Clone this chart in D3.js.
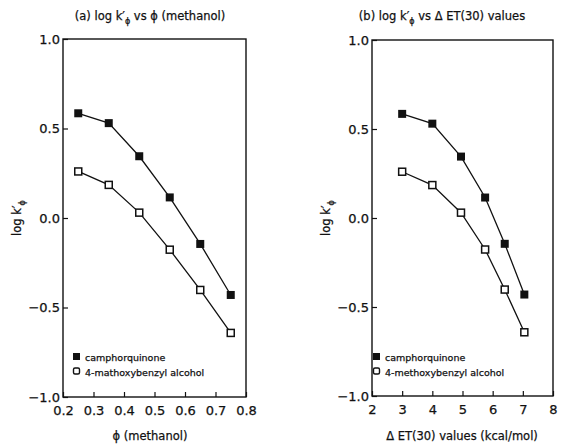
<!DOCTYPE html>
<html>
<head>
<meta charset="utf-8">
<script src="https://cdn.jsdelivr.net/npm/d3@7"></script>
<style>
  body { margin: 0; background: #fff; }
  text, tspan { font-family: "DejaVu Sans", sans-serif; fill: #111; stroke: #111; stroke-width: 0.25px; }
</style>
</head>
<body>
<div id="chart"></div>
<script>
// data
var phi = [0.25, 0.35, 0.45, 0.55, 0.65, 0.75];
var deltaET = [3.0, 4.0, 4.95, 5.75, 6.4, 7.05];
var camphor = [0.585, 0.53, 0.345, 0.115, -0.145, -0.43];
var methoxy = [0.26, 0.185, 0.03, -0.177, -0.402, -0.642];
var yTicks = [-1.0, -0.5, 0.0, 0.5, 1.0];
var phiTicks = [0.2, 0.3, 0.4, 0.5, 0.6, 0.7, 0.8];
var etTicks = [2, 3, 4, 5, 6, 7, 8];
var seriesNames = ["camphorquinone", "4-mathoxybenzyl alcohol"];
var seriesNamesB = ["camphorquinone", "4-methoxybenzyl alcohol"];

var svg = d3.select("#chart").append("svg")
    .attr("width", 561)
    .attr("height", 444);

var sub = "log k\u2032<tspan dy='4' font-size='8px'>\u03d5</tspan>";

function panel(opt) {
    var x = d3.scaleLinear().domain(opt.xDomain).range([opt.left, opt.right]);
    var y = d3.scaleLinear().domain([-1, 1]).range([opt.bottom, opt.top]);
    var g = svg.append("g");

    // frame
    g.append("rect")
        .attr("x", opt.left).attr("y", opt.top)
        .attr("width", opt.right - opt.left).attr("height", opt.bottom - opt.top)
        .attr("fill", "none").attr("stroke", "#111").attr("stroke-width", 1.4);

    // bottom axis, ticks pointing in
    var xa = g.append("g")
        .attr("transform", "translate(0," + opt.bottom + ")")
        .call(d3.axisBottom(x).tickValues(opt.xTicks).tickSizeInner(-5).tickSizeOuter(0)
            .tickFormat(opt.xFormat));
    xa.select(".domain").remove();
    xa.selectAll("line").attr("stroke", "#111").attr("stroke-width", 1.2);
    xa.selectAll("text").attr("y", 9).attr("dy", "0.71em")
        .style("font-size", "13px").style("font-family", "'DejaVu Sans', sans-serif");

    // left axis
    var ya = g.append("g")
        .attr("transform", "translate(" + opt.left + ",0)")
        .call(d3.axisLeft(y).tickValues(yTicks).tickSizeInner(-5).tickSizeOuter(0)
            .tickFormat(d3.format(".1f")));
    ya.select(".domain").remove();
    ya.selectAll("line").attr("stroke", "#111").attr("stroke-width", 1.2);
    ya.selectAll("text").attr("x", -3)
        .style("font-size", "13px").style("font-family", "'DejaVu Sans', sans-serif");

    // titles
    g.append("text")
        .attr("x", opt.titleX).attr("y", 20)
        .attr("text-anchor", "middle")
        .style("font-size", "11.5px")
        .html(opt.title);
    g.append("text")
        .attr("x", opt.xLabelX).attr("y", 440)
        .attr("text-anchor", "middle")
        .style("font-size", "11.5px")
        .text(opt.xLabel);
    g.append("text")
        .attr("transform", "translate(" + (opt.left - 42) + "," + ((opt.top + opt.bottom) / 2) + ") rotate(-90)")
        .attr("text-anchor", "middle")
        .style("font-size", "11.5px")
        .html(sub);

    var line = d3.line().x(function(d) { return x(d[0]); }).y(function(d) { return y(d[1]); });
    var s1 = d3.zip(opt.xs, camphor);
    var s2 = d3.zip(opt.xs, methoxy);

    [s1, s2].forEach(function(s) {
        g.append("path").datum(s)
            .attr("d", line).attr("fill", "none")
            .attr("stroke", "#111").attr("stroke-width", 1.3);
    });
    g.selectAll(".filled").data(s1).enter().append("rect")
        .attr("x", function(d) { return x(d[0]) - 4; })
        .attr("y", function(d) { return y(d[1]) - 4; })
        .attr("width", 8).attr("height", 8)
        .attr("fill", "#111");
    g.selectAll(".open").data(s2).enter().append("rect")
        .attr("x", function(d) { return x(d[0]) - 3.5; })
        .attr("y", function(d) { return y(d[1]) - 3.5; })
        .attr("width", 7).attr("height", 7)
        .attr("fill", "#fff").attr("stroke", "#111").attr("stroke-width", 1.5);

    // legend
    var lx = opt.left + opt.legendDx;
    g.append("rect").attr("x", lx - 4).attr("y", 353).attr("width", 7).attr("height", 7).attr("fill", "#111");
    g.append("rect").attr("x", lx - 3.5).attr("y", 368).attr("width", 6).attr("height", 6)
        .attr("rx", 1.5).attr("fill", "#fff").attr("stroke", "#111").attr("stroke-width", 1.4);
    g.append("text").attr("x", lx + 8).attr("y", 360.5)
        .style("font-size", "9.5px").text(opt.names[0]);
    g.append("text").attr("x", lx + 8).attr("y", 375.5)
        .style("font-size", "9.5px").text(opt.names[1]);
}

panel({
    left: 63, right: 246, top: 39, bottom: 397,
    xDomain: [0.2, 0.8], xTicks: phiTicks, xFormat: d3.format(".1f"),
    xs: phi,
    title: "(a) " + sub + "<tspan dy='-4'> vs \u03d5 (methanol)</tspan>",
    titleX: 150,
    xLabel: "\u03d5 (methanol)",
    xLabelX: 150,
    legendDx: 14,
    names: seriesNames
});

panel({
    left: 372, right: 553, top: 40, bottom: 396,
    xDomain: [2, 8], xTicks: etTicks, xFormat: d3.format("d"),
    xs: deltaET,
    title: "(b) " + sub + "<tspan dy='-4'> vs \u0394 ET(30) values</tspan>",
    titleX: 442,
    xLabel: "\u0394 ET(30) values (kcal/mol)",
    xLabelX: 462,
    legendDx: 5,
    names: seriesNamesB
});
</script>
</body>
</html>
